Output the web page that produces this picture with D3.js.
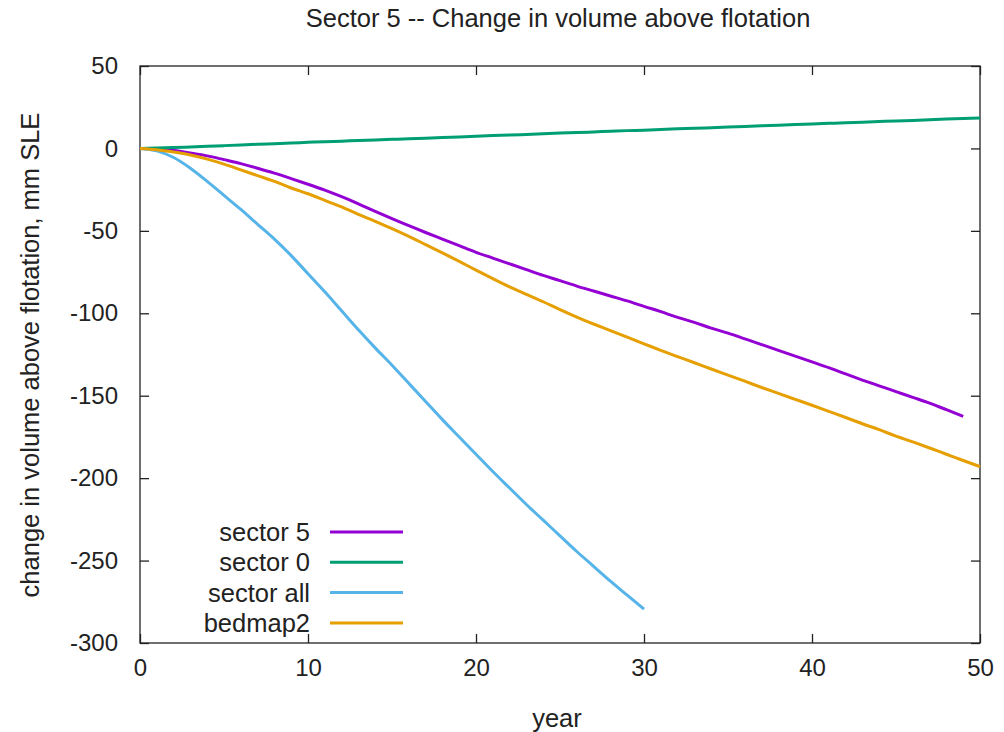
<!DOCTYPE html>
<html lang="en">
<head>
  <meta charset="UTF-8">
  <title>Sector 5 -- Change in volume above flotation</title>
  <script src="https://d3js.org/d3.v7.min.js"></script>
  <style>
    body { margin: 0; background: #fff; }
    text { font-family: "Liberation Sans", Arial, sans-serif; fill: #222; }
  </style>
</head>
<body>
  <svg width="1004" height="732"></svg>

  <script>
    // Input data
    const sector5Years = d3.range(0, 50);
    const sector5 = [0, -0.3, -1.3, -2.8, -4.5, -6.8, -9.2, -12, -15, -18.3,
      -21.7, -25.3, -29.3, -33.6, -38.2, -42.6, -46.8, -51, -55, -59,
      -63, -66.5, -70, -73.5, -77, -80.2, -83.5, -86.5, -89.5, -92.5,
      -95.8, -99, -102.5, -105.5, -109, -112, -115.5, -119, -122.5, -126,
      -129.5, -133, -136.8, -140.5, -144, -147.5, -151, -154.5, -158.5, -162.5];

    const sector0Years = d3.range(0, 51);
    const sector0 = [0, 0.2, 0.5, 0.9, 1.3, 1.7, 2.1, 2.5, 2.9, 3.3,
      3.7, 4.1, 4.4, 4.8, 5.1, 5.5, 5.9, 6.2, 6.6, 7,
      7.4, 7.8, 8.1, 8.5, 8.9, 9.3, 9.6, 10, 10.4, 10.8,
      11.1, 11.5, 11.9, 12.2, 12.6, 13, 13.3, 13.7, 14.1, 14.5,
      14.8, 15.2, 15.6, 15.9, 16.3, 16.7, 17, 17.4, 17.8, 18.1, 18.5];

    const sectorAllYears = d3.range(0, 31);
    const sectorAll = [0, -1.5, -5.5, -12, -20, -28.5, -37, -46, -55, -65,
      -76, -87, -98.5, -110, -121, -131.5, -142.5, -153.5, -164.5, -175,
      -185.5, -196, -206, -216, -225.5, -235, -244.5, -253.5, -262.5, -271, -279.5];

    const bedmap2Years = d3.range(0, 51);
    const bedmap2 = [0, -0.8, -2.2, -4, -6.5, -9.5, -13, -16.5, -20, -24,
      -27.5, -31.5, -35.5, -40, -44.2, -48.6, -53.3, -58.3, -63.3, -68.5,
      -73.8, -79, -84, -88.5, -93, -97.8, -102.3, -106.5, -110.5, -114.5,
      -118.5, -122.5, -126.3, -130, -133.8, -137.5, -141.2, -145, -148.6, -152.2,
      -155.8, -159.5, -163.2, -167, -170.6, -174.5, -178, -181.7, -185.5, -189.3, -193];

    const seriesNames = ["sector 5", "sector 0", "sector all", "bedmap2"];
    const seriesColors = ["#9400d3", "#009e73", "#56b4e9", "#e69f00"];
    const seriesYears = [sector5Years, sector0Years, sectorAllYears, bedmap2Years];
    const seriesValues = [sector5, sector0, sectorAll, bedmap2];

    const xTicks = [0, 10, 20, 30, 40, 50];
    const yTicks = [50, 0, -50, -100, -150, -200, -250, -300];

    // Layout
    const margin = { top: 66, right: 24, bottom: 89, left: 140 };
    const width = 1004 - margin.left - margin.right;
    const height = 732 - margin.top - margin.bottom;

    const svg = d3.select("svg");
    const g = svg.append("g")
      .attr("transform", `translate(${margin.left},${margin.top})`);

    const xScale = d3.scaleLinear().domain([0, 50]).range([0, width]);
    const yScale = d3.scaleLinear().domain([-300, 50]).range([height, 0]);

    const tickFont = 24;
    const labelFont = 25.5;
    const fmt = d => String(d); // plain hyphen, like gnuplot

    // Axes with inward ticks (and mirrored ticks on top/right)
    g.append("g")
      .attr("transform", `translate(0,${height})`)
      .call(d3.axisBottom(xScale).tickValues(xTicks).tickFormat(fmt).tickSize(-9).tickPadding(16));
    g.append("g")
      .call(d3.axisLeft(yScale).tickValues(yTicks).tickFormat(fmt).tickSize(-9).tickPadding(22));
    g.append("g")
      .call(d3.axisTop(xScale).tickValues(xTicks).tickSize(-9).tickFormat(""));
    g.append("g")
      .attr("transform", `translate(${width},0)`)
      .call(d3.axisRight(yScale).tickValues(yTicks).tickSize(-9).tickFormat(""));

    g.selectAll(".domain").remove();
    g.selectAll(".tick line").attr("stroke", "#222").attr("stroke-width", 1.3);
    g.selectAll(".tick text")
      .style("font-family", "'Liberation Sans', Arial, sans-serif")
      .style("font-size", tickFont + "px")
      .attr("fill", "#222");

    // Border
    g.append("rect")
      .attr("width", width)
      .attr("height", height)
      .attr("fill", "none")
      .attr("stroke", "#222")
      .attr("stroke-width", 1.3);

    // Lines
    const line = d3.line()
      .curve(d3.curveMonotoneX)
      .x(d => xScale(d[0]))
      .y(d => yScale(d[1]));

    seriesValues.forEach((vals, i) => {
      const pts = vals.map((v, j) => [seriesYears[i][j], v]);
      g.append("path")
        .datum(pts)
        .attr("fill", "none")
        .attr("stroke", seriesColors[i])
        .attr("stroke-width", 3)
        .attr("stroke-linejoin", "round")
        .attr("d", line);
    });

    // Legend
    const legend = svg.append("g");
    seriesNames.forEach((name, i) => {
      const y = 532 + i * 30.3;
      legend.append("text")
        .attr("x", 310)
        .attr("y", y)
        .attr("dy", "0.35em")
        .attr("text-anchor", "end")
        .style("font-size", labelFont + "px")
        .text(name);
      legend.append("line")
        .attr("x1", 330).attr("x2", 403)
        .attr("y1", y).attr("y2", y)
        .attr("stroke", seriesColors[i])
        .attr("stroke-width", 3);
    });

    // Titles
    svg.append("text")
      .attr("x", 558)
      .attr("y", 18)
      .attr("dy", "0.35em")
      .attr("text-anchor", "middle")
      .style("font-size", "25.5px")
      .text("Sector 5 -- Change in volume above flotation");

    svg.append("text")
      .attr("x", 557)
      .attr("y", 718)
      .attr("dy", "0.35em")
      .attr("text-anchor", "middle")
      .style("font-size", labelFont + "px")
      .text("year");

    svg.append("text")
      .attr("transform", "translate(30,355) rotate(-90)")
      .attr("dy", "0.35em")
      .attr("text-anchor", "middle")
      .style("font-size", labelFont + "px")
      .text("change in volume above flotation, mm SLE");
  </script>
</body>
</html>
